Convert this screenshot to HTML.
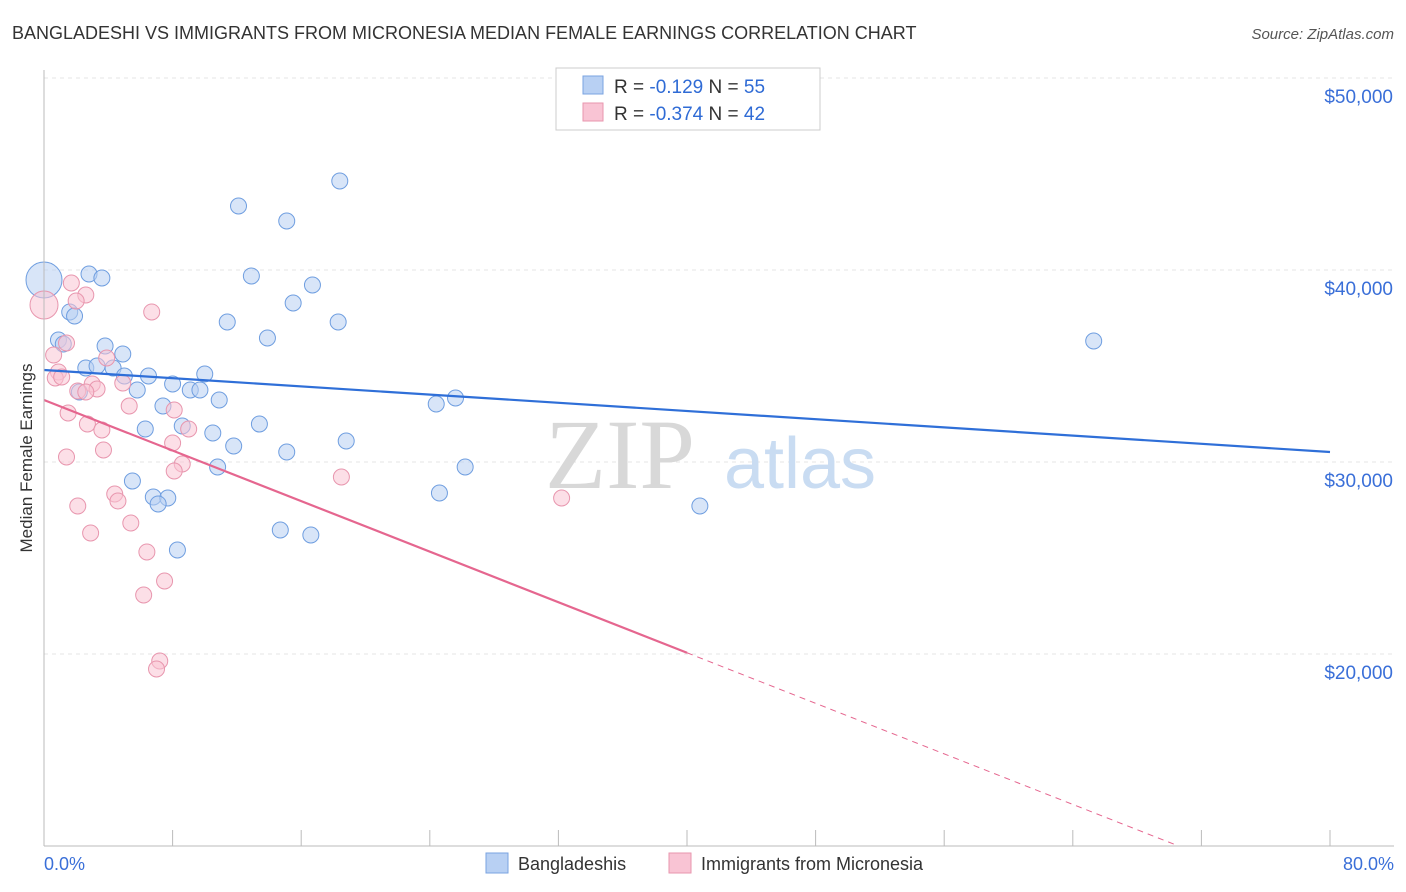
<!DOCTYPE html>
<html><head><meta charset="utf-8"><style>
body{margin:0;background:#fff;font-family:"Liberation Sans",sans-serif}
svg{display:block}
</style></head><body>
<svg id="chart" width="1406" height="892">
<text x="12" y="39" font-size="18" fill="#333">BANGLADESHI VS IMMIGRANTS FROM MICRONESIA MEDIAN FEMALE EARNINGS CORRELATION CHART</text>
<text x="1394" y="39" font-size="15" fill="#555" font-style="italic" text-anchor="end">Source: ZipAtlas.com</text>
<text x="32" y="458" font-size="17" fill="#333" text-anchor="middle" transform="rotate(-90 32 458)">Median Female Earnings</text>
<g id="grid"></g>
<g id="xticks"></g>
<text x="620" y="488" font-size="100" fill="#d8d8d8" font-family="Liberation Serif,serif" text-anchor="middle">ZIP</text>
<text x="800" y="488" font-size="72" fill="#c9dcf2" text-anchor="middle">atlas</text>
<g id="pts"></g>
<g id="trends"></g>
<line x1="44" y1="70" x2="44" y2="846" stroke="#bbb"/>
<line x1="44" y1="846" x2="1394" y2="846" stroke="#bbb"/>
<text x="44" y="870" font-size="18" fill="#3a6fd8">0.0%</text>
<text x="1394" y="870" font-size="18" fill="#3a6fd8" text-anchor="end">80.0%</text>
<g>
<rect x="556" y="68" width="264" height="62" fill="#fff" stroke="#ccc"/>
<rect x="583" y="76" width="20" height="18" fill="#b8d0f3" stroke="#7aa3e0"/>
<text x="614" y="93" font-size="19" fill="#333">R = <tspan fill="#2f6bd5">-0.129</tspan>   N = <tspan fill="#2f6bd5">55</tspan></text>
<rect x="583" y="103" width="20" height="18" fill="#f9c4d4" stroke="#e896ae"/>
<text x="614" y="120" font-size="19" fill="#333">R = <tspan fill="#2f6bd5">-0.374</tspan>   N = <tspan fill="#2f6bd5">42</tspan></text>
</g>
<g><rect x="486" y="853" width="22" height="20" fill="#b8d0f3" stroke="#7aa3e0"/><text x="518" y="870" font-size="18" fill="#333">Bangladeshis</text></g>
<g><rect x="669" y="853" width="22" height="20" fill="#f9c4d4" stroke="#e896ae"/><text x="701" y="870" font-size="18" fill="#333">Immigrants from Micronesia</text></g>
</svg>
<script>
const yTicks=[20000,30000,40000,50000];
const yTickLabels=["$20,000","$30,000","$40,000","$50,000"];
const blueX=[0,2.8,3.6,1.6,1.9,0.9,1.2,3.8,4.9,2.6,3.3,4.3,5.0,6.5,2.2,5.8,8.0,9.1,9.7,10.0,7.4,10.9,6.3,8.6,10.5,11.8,13.4,10.8,5.5,6.8,7.7,7.1,8.3,12.1,18.4,15.1,12.9,16.7,15.5,11.4,13.9,18.3,15.1,18.8,14.7,16.6,24.4,25.6,26.2,24.6,40.8,65.3];
const blueY=[39480,39792,39583,37813,37604,36354,36146,36042,35625,34896,35000,34896,34479,34479,33646,33750,34063,33750,33750,34583,32917,33229,31719,31875,31510,30833,31979,29740,29010,28177,28125,27813,25417,43333,44635,42552,39688,39219,38281,37292,36458,37292,30521,31094,26458,26198,33021,33333,29740,28385,27708,36302];
const pinkX=[0,1.7,2.6,2.0,6.7,0.6,1.4,0.9,0.7,1.1,3.9,3.0,3.3,4.9,2.1,2.6,5.3,1.5,8.1,2.7,3.6,9.0,8.0,3.7,1.4,8.6,8.1,4.4,4.6,2.1,5.4,2.9,6.4,7.5,6.2,7.2,7.0,18.5,32.2];
const pinkY=[38177,39323,38698,38385,37813,35573,36198,34688,34375,34427,35417,34063,33802,34115,33698,33646,32917,32552,32708,31979,31667,31719,30990,30625,30260,29896,29531,28333,27969,27708,26823,26302,25313,23802,23073,19635,19219,29219,28125];
const blueTrend=[34792,30521];
const pinkTrend=[33229,6900];
const NS="http://www.w3.org/2000/svg";
const xs=p=>44+p*16.075, ys=v=>78+(50000-v)*0.0192;
function mk(t,a,parent){const e=document.createElementNS(NS,t);for(const k in a)e.setAttribute(k,a[k]);parent.appendChild(e);return e;}
const svg=document.getElementById('chart');
const grid=document.getElementById('grid');
yTicks.forEach((v,i)=>{
 const l=mk('line',{x1:44,x2:1394,y1:ys(v),y2:ys(v),stroke:'#e4e4e4','stroke-dasharray':'4,4'},grid);
 
 
 const t=mk('text',{x:1393,y:ys(v)+25,'font-size':19,fill:'#3a6fd8','text-anchor':'end'},grid);
 t.textContent=yTickLabels[i];
 
 
});
const xt=document.getElementById('xticks');
for(let p=0;p<=80;p+=8){
 const l=mk('line',{x1:xs(p),x2:xs(p),y1:830,y2:846,stroke:'#bbb'},xt);
 
 
}
const pts=document.getElementById('pts');
blueX.forEach((x,i)=>{
 const c=mk('circle',{cx:xs(x),cy:ys(blueY[i]),r:i==0?18:8,fill:'#b8d0f3','fill-opacity':0.55,stroke:'#6f9ee0','stroke-width':1},pts);
 
 
});
pinkX.forEach((x,i)=>{
 const c=mk('circle',{cx:xs(x),cy:ys(pinkY[i]),r:i==0?14:8,fill:'#f9c4d4','fill-opacity':0.55,stroke:'#e896ae','stroke-width':1},pts);
 
 
});
const tr=document.getElementById('trends');
const bl=mk('line',{x1:xs(0),y1:ys(blueTrend[0]),x2:xs(80),y2:ys(blueTrend[1]),stroke:'#2f6fd8','stroke-width':2.2},tr);


const pv=p=>pinkTrend[0]+(pinkTrend[1]-pinkTrend[0])*p/80;
const pl=mk('line',{x1:xs(0),y1:ys(pv(0)),x2:xs(40),y2:ys(pv(40)),stroke:'#e5668f','stroke-width':2.2},tr);


const pd=mk('line',{x1:xs(40),y1:ys(pv(40)),x2:xs(80),y2:ys(pv(80)),stroke:'#e5668f','stroke-width':1,'stroke-dasharray':'6,5','clip-path':'url(#clip)'},tr);


const defs=mk('defs',{},svg);const cp=mk('clipPath',{id:'clip'},defs);mk('rect',{x:44,y:60,width:1350,height:786},cp);
</script>
</body></html>
